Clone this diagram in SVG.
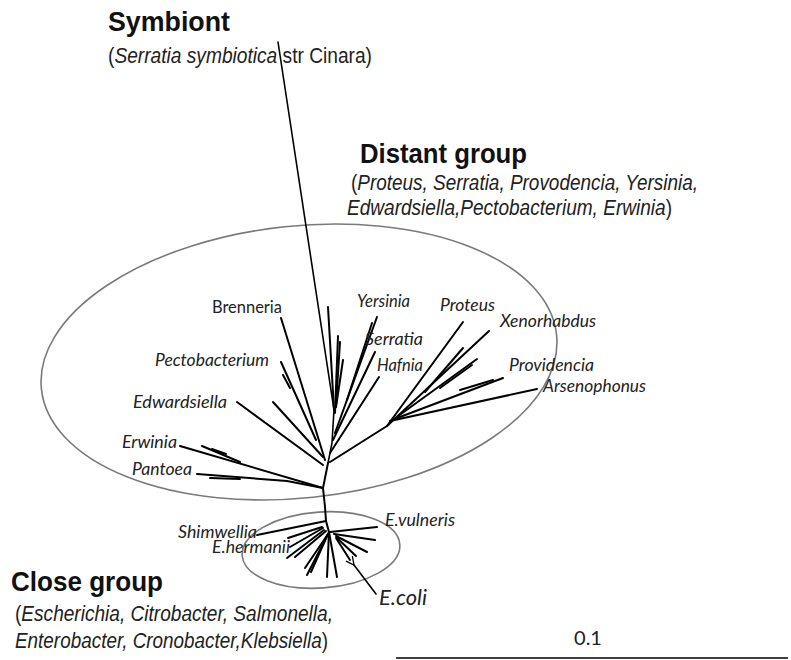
<svg xmlns="http://www.w3.org/2000/svg" width="791" height="660" viewBox="0 0 791 660">
<style>
.br{stroke:#000;stroke-width:2;fill:none;stroke-linecap:round}
.th{stroke:#000;stroke-width:1.6;fill:none;stroke-linecap:round}
.ell{fill:none;stroke:#7a7a7a;stroke-width:1.6}
.lab{font-family:Lato,"Open Sans",sans-serif;font-size:17px;font-style:italic;fill:#222}
.up{font-style:normal}
.head{font-family:"Liberation Sans",Arial,sans-serif;font-weight:bold;font-size:28px;fill:#111}
.sub{font-family:"Liberation Sans",Arial,sans-serif;font-size:22px;fill:#222}
.it{font-style:italic}
.scale{font-family:Lato,"Open Sans",sans-serif;font-size:20px;fill:#222}
</style>
<defs>
<marker id="open" viewBox="0 0 10 10" refX="1" refY="5" markerWidth="10" markerHeight="10" orient="auto-start-reverse" markerUnits="userSpaceOnUse">
<path d="M9,1 L1,5 L9,9" fill="none" stroke="#000" stroke-width="1.3"/>
</marker>
</defs>
<rect width="791" height="660" fill="#fff"/>

<g id="ellipses">
<ellipse id="distant-ellipse" class="ell" cx="299" cy="362" rx="259" ry="136" transform="rotate(-6 299 362)"/>
<ellipse id="close-ellipse" class="ell" cx="321" cy="550" rx="79" ry="38" transform="rotate(-4 321 550)"/>
</g>

<g id="connectors">
<path class="th" d="M278,42 L334,410 L332,443 L328,463"/>
<path class="br" d="M328,307 L334,410"/>
<path class="br" d="M338,336 L335,413"/>
<path class="br" d="M340,342 L336,405"/>
<path class="br" d="M343,360 L336,407"/>
<path class="br" d="M377,317 L335,433"/>
<path class="br" d="M372,323 L347,400"/>
<path class="br" d="M375,352 L333,440"/>
<path class="br" d="M379,377 L330,453"/>
<path class="br" d="M281,318 L325,460"/>
<path class="br" d="M281,362 L316,440"/>
<path class="br" d="M283,375 L290,388"/>
<path class="br" d="M237,402 L323,465"/>
<path class="br" d="M273,402 L323,457"/>
<path class="br" d="M180,446 L323,488"/>
<path class="br" d="M202,446 L240,462"/>
<path class="br" d="M212,449 L226,454"/>
<path class="br" d="M197,474 L287,481 L323,488"/>
<path class="br" d="M210,478 L240,479"/>
<path class="br" d="M328,463 L323,488 L325,507 L326,521 L329,532"/>
<path class="br" d="M330,462 L387,426"/>
<path class="br" d="M387,426 L463,322"/>
<path class="br" d="M387,426 L489,331"/>
<path class="br" d="M425,392 L463,348"/>
<path class="br" d="M390,422 L477,359"/>
<path class="br" d="M440,388 L472,365"/>
<path class="br" d="M392,420 L503,378"/>
<path class="br" d="M460,390 L493,380"/>
<path class="br" d="M390,421 L537,389"/>
<path class="br" d="M257,535 L326,521"/>
<path class="br" d="M322,527 L288,538"/>
<path class="br" d="M323,528 L290,547"/>
<path class="br" d="M324,530 L287,558"/>
<path class="br" d="M326,531 L295,557"/>
<path class="br" d="M329,532 L307,575"/>
<path class="br" d="M328,534 L311,572"/>
<path class="br" d="M328,534 L305,568"/>
<path class="br" d="M329,532 L327,577"/>
<path class="br" d="M329,532 L337,577"/>
<path class="br" d="M330,532 L377,527"/>
<path class="br" d="M334,534 L375,540"/>
<path class="br" d="M336,536 L367,552"/>
<path class="br" d="M336,538 L350,560"/>
<path class="br" d="M337,538 L356,556"/>
<path class="th" d="M376,594 L354,565" marker-end="url(#open)"/>
<line x1="396" y1="658" x2="788" y2="658" stroke="#000" stroke-width="1.5"/>
</g>

<g id="symbiont">
<text class="head" x="108" y="31" textLength="122" lengthAdjust="spacingAndGlyphs" font-family="'Open Sans',sans-serif">Symbiont</text>
<text class="sub" x="108" y="63" textLength="264" lengthAdjust="spacingAndGlyphs">(<tspan class="it">Serratia symbiotica</tspan> str Cinara)</text>
</g>

<g id="distant-group">
<text class="head" x="360" y="163" textLength="167" lengthAdjust="spacingAndGlyphs">Distant group</text>
<text class="sub" x="351" y="190" textLength="347" lengthAdjust="spacingAndGlyphs">(<tspan class="it">Proteus, Serratia, Provodencia, Yersinia,</tspan></text>
<text class="sub" x="347" y="215" textLength="325" lengthAdjust="spacingAndGlyphs"><tspan class="it">Edwardsiella,Pectobacterium, Erwinia</tspan>)</text>
</g>

<g id="close-group">
<text class="head" x="11" y="591" textLength="152" lengthAdjust="spacingAndGlyphs">Close group</text>
<text class="sub" x="15" y="621" textLength="318" lengthAdjust="spacingAndGlyphs">(<tspan class="it">Escherichia, Citrobacter, Salmonella,</tspan></text>
<text class="sub" x="15" y="648" textLength="313" lengthAdjust="spacingAndGlyphs"><tspan class="it">Enterobacter, Cronobacter,Klebsiella</tspan>)</text>
</g>

<g id="taxa">
<text id="t-brenneria" class="lab up" x="212" y="313" textLength="70" lengthAdjust="spacingAndGlyphs">Brenneria</text>
<text id="t-yersinia" class="lab" x="357" y="307" textLength="53" lengthAdjust="spacingAndGlyphs">Yersinia</text>
<text id="t-serratia" class="lab" x="365" y="345" textLength="58" lengthAdjust="spacingAndGlyphs">Serratia</text>
<text id="t-hafnia" class="lab" x="377" y="371" textLength="46" lengthAdjust="spacingAndGlyphs">Hafnia</text>
<text id="t-pecto" class="lab" x="155" y="366" textLength="114" lengthAdjust="spacingAndGlyphs">Pectobacterium</text>
<text id="t-edw" class="lab" x="133" y="408" textLength="94" lengthAdjust="spacingAndGlyphs">Edwardsiella</text>
<text id="t-erwinia" class="lab" x="122" y="448" textLength="55" lengthAdjust="spacingAndGlyphs">Erwinia</text>
<text id="t-pantoea" class="lab" x="132" y="475" textLength="60" lengthAdjust="spacingAndGlyphs">Pantoea</text>
<text id="t-proteus" class="lab" x="440" y="311" textLength="55" lengthAdjust="spacingAndGlyphs">Proteus</text>
<text id="t-xeno" class="lab" x="500" y="327" textLength="96" lengthAdjust="spacingAndGlyphs">Xenorhabdus</text>
<text id="t-provid" class="lab" x="509" y="371" textLength="85" lengthAdjust="spacingAndGlyphs">Providencia</text>
<text id="t-arseno" class="lab" x="543" y="392" textLength="103" lengthAdjust="spacingAndGlyphs">Arsenophonus</text>
<text id="t-shim" class="lab" x="178" y="538" textLength="79" lengthAdjust="spacingAndGlyphs">Shimwellia</text>
<text id="t-eherm" class="lab" x="212" y="553" textLength="78" lengthAdjust="spacingAndGlyphs">E.hermanii</text>
<text id="t-evul" class="lab" x="385" y="526" textLength="70" lengthAdjust="spacingAndGlyphs">E.vulneris</text>
<text id="t-ecoli" class="lab" x="379" y="605" textLength="48" lengthAdjust="spacingAndGlyphs" style="font-size:21px">E.coli</text>
</g>

<g id="scale">
<text class="scale" x="588" y="645" text-anchor="middle">0.1</text>
</g>
</svg>
